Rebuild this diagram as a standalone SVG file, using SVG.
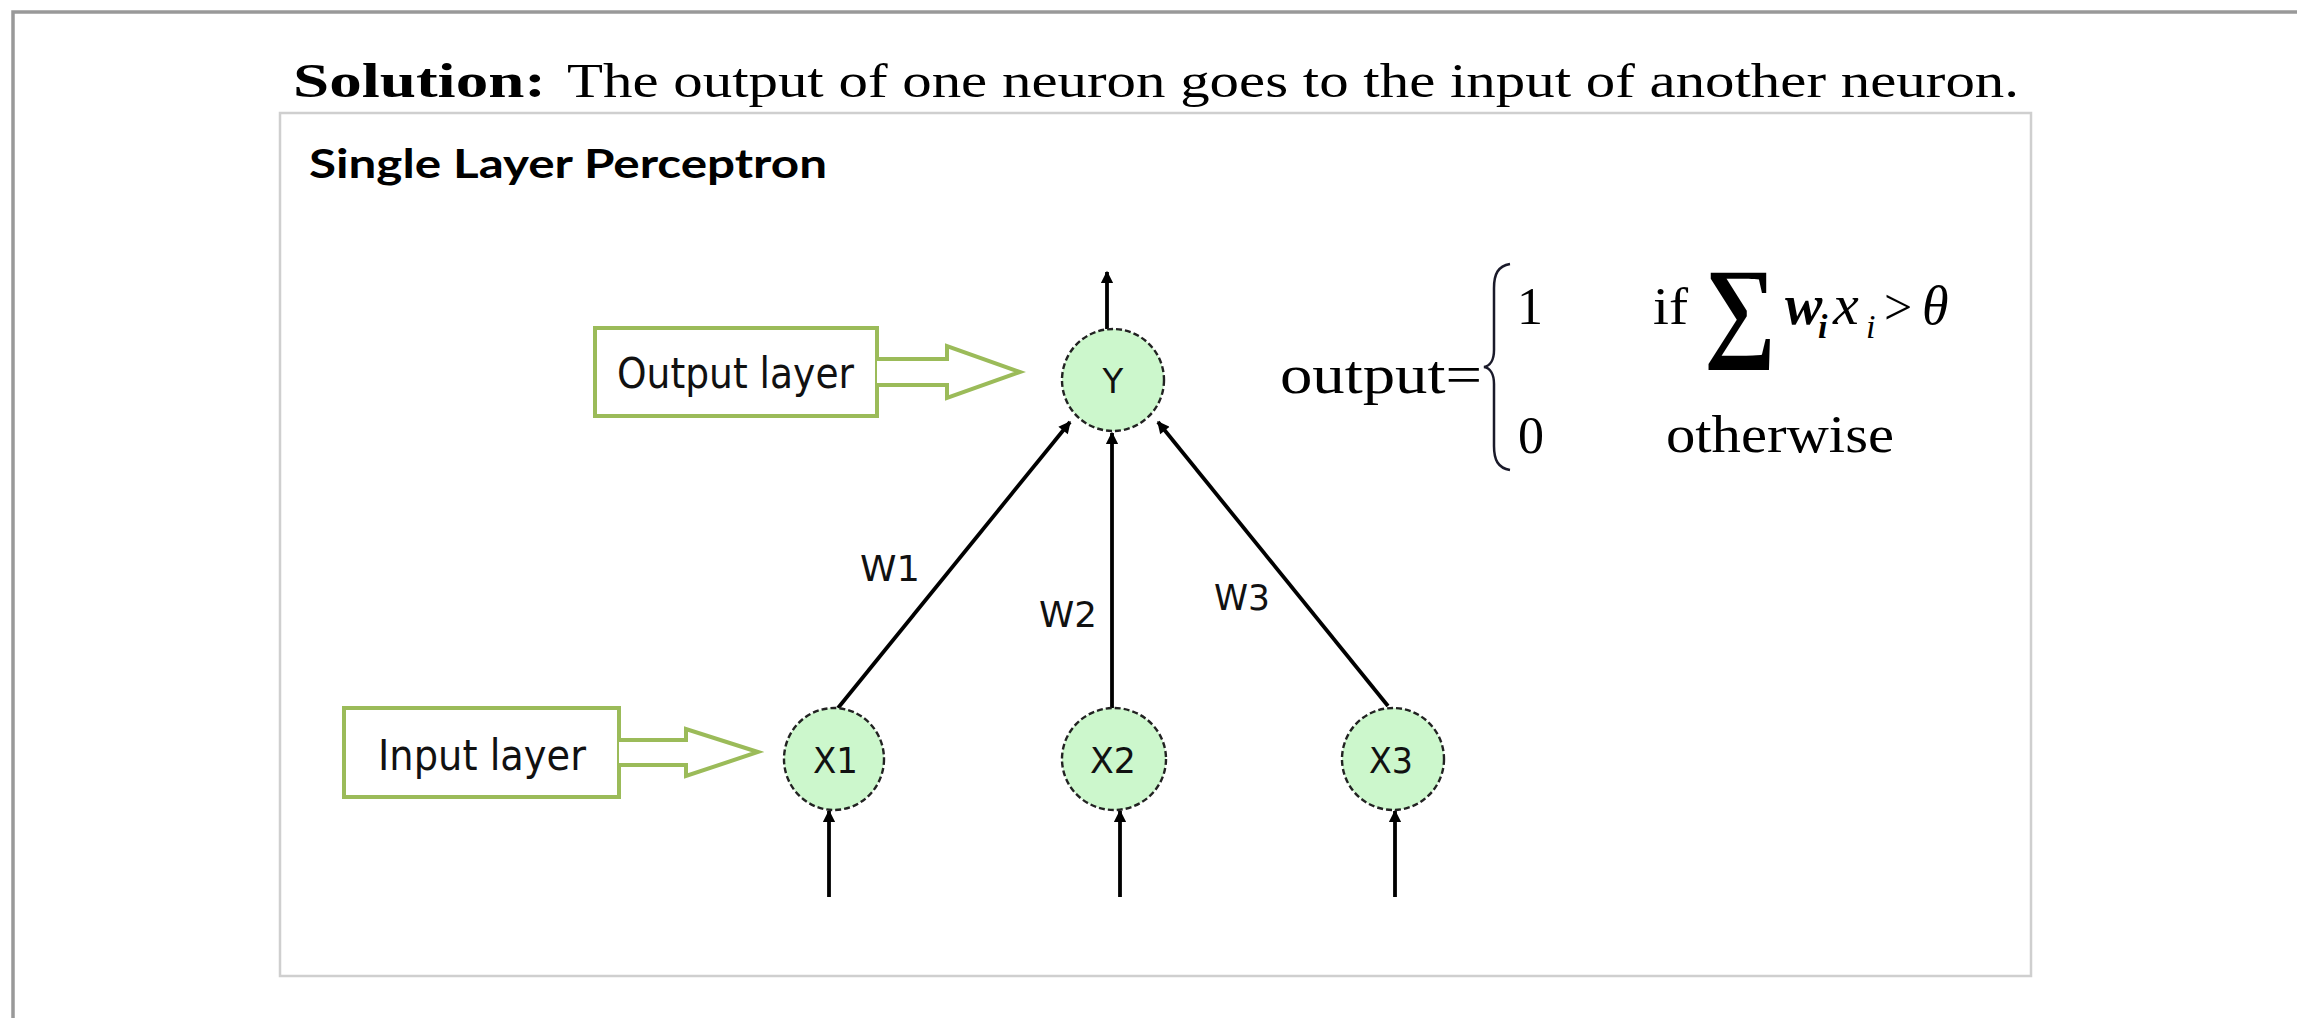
<svg xmlns="http://www.w3.org/2000/svg" width="2297" height="1018" viewBox="0 0 2297 1018">
<defs>
<style>
.serif{font-family:"Liberation Serif","Times New Roman",serif;fill:#000}
.sans{font-family:"DejaVu Sans","Liberation Sans",sans-serif;fill:#111}
.node{fill:#ccf7cc;stroke:#222;stroke-width:2.4;stroke-dasharray:6 3}
.edge{stroke:#000;stroke-width:3.8;fill:none;marker-end:url(#ah)}
.callout{fill:#fff;stroke:#9bbb59;stroke-width:4}
</style>
<marker id="ah" viewBox="0 0 10 10" refX="9" refY="5" markerWidth="3.6" markerHeight="3.2" orient="auto" markerUnits="strokeWidth">
<path d="M0,0 L10,5 L0,10 z" fill="#000"/>
</marker>
</defs>
<rect width="2297" height="1018" fill="#fff"/>
<path d="M13,1018 V12 H2297" fill="none" stroke="#999" stroke-width="3.5"/>
<text class="serif" x="293" y="97" font-size="48" font-weight="bold" textLength="253" lengthAdjust="spacingAndGlyphs">Solution:</text>
<text class="serif" x="567" y="97" font-size="48" textLength="1452" lengthAdjust="spacingAndGlyphs">The output of one neuron goes to the input of another neuron.</text>
<rect x="280" y="113" width="1751" height="863" fill="#fff" stroke="#cfcfcf" stroke-width="2.5"/>
<text x="309" y="178" font-family="Lato,'Open Sans',sans-serif" font-weight="bold" font-size="41" fill="#000" textLength="518" lengthAdjust="spacingAndGlyphs">Single Layer Perceptron</text>

<g id="output-layer-label">
<rect class="callout" x="595" y="328" width="282" height="88"/>
<path class="callout" d="M877,359 H947 V346 L1020,372 L947,398 V385 H877"/>
<text class="sans" x="617" y="388" font-size="42" textLength="237" lengthAdjust="spacingAndGlyphs">Output layer</text>
</g>
<g id="input-layer-label">
<rect class="callout" x="344" y="708" width="275" height="89"/>
<path class="callout" d="M619,740 H686 V729 L758,752 L686,776 V765 H619"/>
<text class="sans" x="378" y="770" font-size="42" textLength="208" lengthAdjust="spacingAndGlyphs">Input layer</text>
</g>

<g id="connectors">
<line class="edge" x1="1107" y1="329" x2="1107" y2="272"/>
<line class="edge" x1="838" y1="708" x2="1070" y2="422"/>
<line class="edge" x1="1112" y1="708" x2="1112" y2="433"/>
<line class="edge" x1="1388" y1="706" x2="1158" y2="422"/>
<line class="edge" x1="829" y1="897" x2="829" y2="811"/>
<line class="edge" x1="1120" y1="897" x2="1120" y2="811"/>
<line class="edge" x1="1395" y1="897" x2="1395" y2="811"/>
<text class="sans" x="860" y="581" font-size="36" textLength="60" lengthAdjust="spacingAndGlyphs">W1</text>
<text class="sans" x="1039" y="627" font-size="36" textLength="58" lengthAdjust="spacingAndGlyphs">W2</text>
<text class="sans" x="1214" y="610" font-size="36" textLength="56" lengthAdjust="spacingAndGlyphs">W3</text>
</g>

<g id="node-y">
<circle class="node" cx="1113" cy="380" r="51"/>
<text class="sans" x="1113" y="393" font-size="34" text-anchor="middle">Y</text>
</g>
<g id="node-x1">
<ellipse class="node" cx="834" cy="759" rx="50" ry="51"/>
<text class="sans" x="813" y="773" font-size="36" textLength="45" lengthAdjust="spacingAndGlyphs">X1</text>
</g>
<g id="node-x2">
<ellipse class="node" cx="1114" cy="759" rx="52" ry="51"/>
<text class="sans" x="1090" y="773" font-size="36" textLength="46" lengthAdjust="spacingAndGlyphs">X2</text>
</g>
<g id="node-x3">
<ellipse class="node" cx="1393" cy="759" rx="51" ry="51"/>
<text class="sans" x="1369" y="773" font-size="36" textLength="44" lengthAdjust="spacingAndGlyphs">X3</text>
</g>

<g id="formula">
<text class="serif" x="1280" y="393" font-size="54" textLength="202" lengthAdjust="spacingAndGlyphs">output=</text>
<path d="M1510,264 C1498,266 1494,274 1494,288 V350 C1494,360 1490,366 1484,367 C1490,368 1494,374 1494,384 V446 C1494,460 1498,468 1510,470" fill="none" stroke="#1a1a2a" stroke-width="2.5"/>
<text class="serif" x="1517" y="324" font-size="52">1</text>
<text class="serif" x="1518" y="453" font-size="52">0</text>
<text class="serif" x="1653" y="324" font-size="52" textLength="35" lengthAdjust="spacingAndGlyphs">if</text>
<text class="serif" x="1704" y="346" font-size="112" font-weight="bold" textLength="72" lengthAdjust="spacingAndGlyphs">∑</text>
<text class="serif" x="1785" y="324" font-size="56" font-weight="bold" font-style="italic">w</text>
<text class="serif" x="1818" y="338" font-size="34" font-weight="bold" font-style="italic">i</text>
<text class="serif" x="1833" y="324" font-size="58" font-style="italic">x</text>
<text class="serif" x="1866" y="338" font-size="34" font-style="italic">i</text>
<text class="serif" x="1884" y="324" font-size="50">&gt;</text>
<text class="serif" x="1922" y="324" font-size="54" font-style="italic">θ</text>
<text class="serif" x="1666" y="452" font-size="52" textLength="228" lengthAdjust="spacingAndGlyphs">otherwise</text>
</g>
</svg>
